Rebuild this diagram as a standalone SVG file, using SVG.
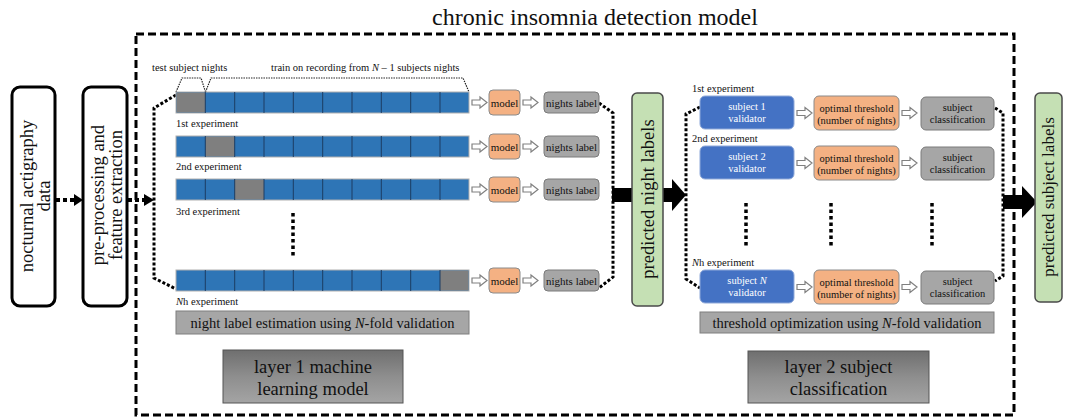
<svg xmlns="http://www.w3.org/2000/svg" width="1068" height="418" viewBox="0 0 1068 418" font-family="'Liberation Serif','Times New Roman',serif">
<style>
text{font-family:"Liberation Serif","Times New Roman",serif;fill:#111}
.sm{font-size:10.5px}
.bx{font-size:11px}
.wt{fill:#fff;font-size:10.5px}
.mid{text-anchor:middle}
.big{font-size:18.5px}
.lab{font-size:14.5px}
.bar{fill:#2E75B6;stroke:#b0b0b0;stroke-width:1}
.tst{fill:#7f7f7f}
.div{stroke:#1c3d63;stroke-width:1}
.mdl{fill:#F4B183;stroke:#8a8a8a;stroke-width:1}
.nl{fill:#A6A6A6;stroke:#7a7a7a;stroke-width:1}
.val{fill:#4472C4;stroke:#8fa9d9;stroke-width:1}
.grn{fill:#C5E0B4;stroke:#4a4a4a;stroke-width:1.5}
.wht{fill:#fff;stroke:#000;stroke-width:3}
.dot{fill:none;stroke:#000;stroke-width:3;stroke-dasharray:3 2}
.dotb{fill:none;stroke:#000;stroke-width:4;stroke-dasharray:4 3}
.brace{fill:none;stroke:#222;stroke-width:1.2;stroke-dasharray:1.5 1}
.vd{fill:none;stroke:#000;stroke-width:3.5;stroke-dasharray:3.5 3}
.dash{fill:none;stroke:#000;stroke-width:3;stroke-dasharray:8 4}
.glab{fill:#A6A6A6;stroke:#7f7f7f;stroke-width:1}
</style>
<defs>
<path id="ha" d="M0,-2.5 H8 V-5.5 L15,0 L8,5.5 V2.5 H0 Z" fill="#fff" stroke="#808080" stroke-width="1.2"/>
<linearGradient id="lg" x1="0" y1="0" x2="0" y2="1">
<stop offset="0" stop-color="#6f6f6f"/>
<stop offset="0.5" stop-color="#8e8e8e"/>
<stop offset="1" stop-color="#a4a4a4"/>
</linearGradient>
<g id="cells">
<line class="div" x1="205.3" y1="0" x2="205.3" y2="21"/>
<line class="div" x1="234.7" y1="0" x2="234.7" y2="21"/>
<line class="div" x1="264" y1="0" x2="264" y2="21"/>
<line class="div" x1="293.3" y1="0" x2="293.3" y2="21"/>
<line class="div" x1="322.7" y1="0" x2="322.7" y2="21"/>
<line class="div" x1="352" y1="0" x2="352" y2="21"/>
<line class="div" x1="381.3" y1="0" x2="381.3" y2="21"/>
<line class="div" x1="410.7" y1="0" x2="410.7" y2="21"/>
<line class="div" x1="440" y1="0" x2="440" y2="21"/>
</g>
</defs>

<text x="595" y="25" class="mid" style="font-size:24px">chronic insomnia detection model</text>

<rect class="dash" x="136" y="34" width="878" height="381"/>

<g id="node-actigraphy">
<rect class="wht" x="12" y="87" width="43" height="219" rx="8"/>
<g transform="translate(33.5,196) rotate(-90)">
<text class="big mid" x="0" y="-1">nocturnal actigraphy</text>
<text class="big mid" x="0" y="16.5">data</text>
</g>
</g>

<g id="node-preprocessing">
<rect class="wht" x="83" y="87" width="44" height="219" rx="8"/>
<g transform="translate(105,195) rotate(-90)">
<text class="big mid" x="0" y="-1">pre-processing and</text>
<text class="big mid" x="0" y="17">feature extraction</text>
</g>
</g>

<g id="connectors">
<path class="dotb" d="M56,200 H75"/>
<path d="M74,194 L83,200 L74,206 Z" fill="#000"/>
<path class="dotb" d="M128,200 H145"/>
<path d="M144,194 L154,200 L144,206 Z" fill="#000"/>
<path class="dot" d="M176,95 L154,108 V278 L176,289"/>
<path class="dot" d="M599,103 L613,113 V277 L599,288"/>
<path class="dot" d="M700,107 L686,114 V279 L700,288"/>
<path class="dot" d="M995,108 L1003,113 V276 L995,281"/>
<path class="brace" d="M176,92 L182,78 H201 L205.5,92"/>
<path class="brace" d="M205.5,92 L211,78 H463 L469,92"/>
<path class="vd" d="M293,213 V257"/>
<path class="vd" d="M746,203 V246"/>
<path class="vd" d="M831,203 V246"/>
<path class="vd" d="M932,203 V246"/>
<rect x="612" y="188" width="21" height="14" fill="#000"/>
<path d="M663,188 H672 V179 L686,195 L672,211 V202 H663 Z" fill="#000"/>
<path d="M1003,195 H1022 V186 L1037,202 L1022,218 V209 H1003 Z" fill="#000"/>
<use href="#ha" x="472" y="102.5"/>
<use href="#ha" x="523" y="102.5"/>
<use href="#ha" x="472" y="146.5"/>
<use href="#ha" x="523" y="146.5"/>
<use href="#ha" x="472" y="189.5"/>
<use href="#ha" x="523" y="189.5"/>
<use href="#ha" x="472" y="280.5"/>
<use href="#ha" x="523" y="280.5"/>
<use href="#ha" x="797" y="113"/>
<use href="#ha" x="902" y="113"/>
<use href="#ha" x="797" y="163"/>
<use href="#ha" x="902" y="163"/>
<use href="#ha" x="797" y="287"/>
<use href="#ha" x="902" y="287"/>
</g>

<text class="sm" x="152" y="71">test subject nights</text>
<text class="sm" x="271" y="71">train on recording from <tspan font-style="italic">N</tspan> – 1 subjects nights</text>

<g id="row1">
<rect class="bar" x="176" y="92" width="293" height="21"/>
<rect class="tst" x="176.5" y="92.5" width="28.8" height="20"/>
<use href="#cells" y="92"/>
<text class="sm" x="176" y="127">1st experiment</text>
<rect class="mdl" x="489" y="90" width="31" height="25" rx="4"/>
<text class="bx mid" x="504.5" y="106.5">model</text>
<rect class="nl" x="544" y="92" width="55" height="21" rx="4"/>
<text class="bx mid" x="571.5" y="106.5">nights label</text>
</g>

<g id="row2">
<rect class="bar" x="176" y="136" width="293" height="21"/>
<rect class="tst" x="205.3" y="136.5" width="29.4" height="20"/>
<use href="#cells" y="136"/>
<text class="sm" x="176" y="170">2nd experiment</text>
<rect class="mdl" x="489" y="134" width="31" height="25" rx="4"/>
<text class="bx mid" x="504.5" y="150.5">model</text>
<rect class="nl" x="544" y="136" width="55" height="21" rx="4"/>
<text class="bx mid" x="571.5" y="150.5">nights label</text>
</g>

<g id="row3">
<rect class="bar" x="176" y="179" width="293" height="21"/>
<rect class="tst" x="234.7" y="179.5" width="29.3" height="20"/>
<use href="#cells" y="179"/>
<text class="sm" x="176" y="215">3rd experiment</text>
<rect class="mdl" x="489" y="177" width="31" height="25" rx="4"/>
<text class="bx mid" x="504.5" y="193.5">model</text>
<rect class="nl" x="544" y="179" width="55" height="21" rx="4"/>
<text class="bx mid" x="571.5" y="193.5">nights label</text>
</g>

<g id="rowN">
<rect class="bar" x="176" y="270" width="293" height="21"/>
<rect class="tst" x="440" y="270.5" width="28.5" height="20"/>
<use href="#cells" y="270"/>
<text class="sm" x="176" y="305"><tspan font-style="italic">N</tspan>h experiment</text>
<rect class="mdl" x="489" y="268" width="31" height="25" rx="4"/>
<text class="bx mid" x="504.5" y="284.5">model</text>
<rect class="nl" x="544" y="270" width="55" height="21" rx="4"/>
<text class="bx mid" x="571.5" y="284.5">nights label</text>
</g>

<g id="night-label-estimation">
<rect class="glab" x="176" y="311" width="293" height="23"/>
<text class="lab mid" x="322.5" y="327.5">night label estimation using <tspan font-style="italic">N</tspan>-fold validation</text>
</g>

<g id="layer1">
<rect x="223" y="350" width="180" height="53" fill="url(#lg)" stroke="#555" stroke-width="1"/>
<text class="big mid" x="313" y="373">layer 1 machine</text>
<text class="big mid" x="313" y="395">learning model</text>
</g>

<g id="predicted-night-labels">
<rect class="grn" x="632" y="93" width="31" height="213" rx="5"/>
<text class="big mid" transform="translate(654,199) rotate(-90)" x="0" y="0">predicted night labels</text>
</g>

<g id="exp1-right">
<text class="sm" x="692" y="92">1st experiment</text>
<rect class="val" x="700" y="96" width="94" height="33" rx="5"/>
<text class="wt mid" x="747" y="110">subject 1</text>
<text class="wt mid" x="747" y="122">validator</text>
<rect class="mdl" x="814" y="96" width="85" height="34" rx="5"/>
<text class="sm mid" x="856.5" y="112">optimal threshold</text>
<text class="sm mid" x="856.5" y="124">(number of nights)</text>
<rect class="nl" x="921" y="97" width="73" height="33" rx="5"/>
<text class="sm mid" x="957.5" y="111">subject</text>
<text class="sm mid" x="957.5" y="123">classification</text>
</g>

<g id="exp2-right">
<text class="sm" x="692" y="142">2nd experiment</text>
<rect class="val" x="700" y="146" width="94" height="33" rx="5"/>
<text class="wt mid" x="747" y="160">subject 2</text>
<text class="wt mid" x="747" y="172">validator</text>
<rect class="mdl" x="814" y="146" width="85" height="34" rx="5"/>
<text class="sm mid" x="856.5" y="162">optimal threshold</text>
<text class="sm mid" x="856.5" y="174">(number of nights)</text>
<rect class="nl" x="921" y="147" width="73" height="33" rx="5"/>
<text class="sm mid" x="957.5" y="161">subject</text>
<text class="sm mid" x="957.5" y="173">classification</text>
</g>

<g id="expN-right">
<text class="sm" x="692" y="266"><tspan font-style="italic">N</tspan>h experiment</text>
<rect class="val" x="700" y="270" width="94" height="33" rx="5"/>
<text class="wt mid" x="747" y="284">subject <tspan font-style="italic">N</tspan></text>
<text class="wt mid" x="747" y="296">validator</text>
<rect class="mdl" x="814" y="270" width="85" height="34" rx="5"/>
<text class="sm mid" x="856.5" y="286">optimal threshold</text>
<text class="sm mid" x="856.5" y="298">(number of nights)</text>
<rect class="nl" x="921" y="271" width="73" height="33" rx="5"/>
<text class="sm mid" x="957.5" y="285">subject</text>
<text class="sm mid" x="957.5" y="297">classification</text>
</g>

<g id="threshold-optimization">
<rect class="glab" x="700" y="312" width="294" height="21"/>
<text class="lab mid" x="847" y="327.5">threshold optimization using <tspan font-style="italic">N</tspan>-fold validation</text>
</g>

<g id="layer2">
<rect x="748" y="351" width="181" height="52" fill="url(#lg)" stroke="#555" stroke-width="1"/>
<text class="big mid" x="838.5" y="373">layer 2 subject</text>
<text class="big mid" x="838.5" y="395">classification</text>
</g>

<g id="predicted-subject-labels">
<rect class="grn" x="1035" y="93" width="27" height="209" rx="5"/>
<text class="mid" style="font-size:17px" transform="translate(1054,197) rotate(-90)" x="0" y="0">predicted subject labels</text>
</g>
</svg>
